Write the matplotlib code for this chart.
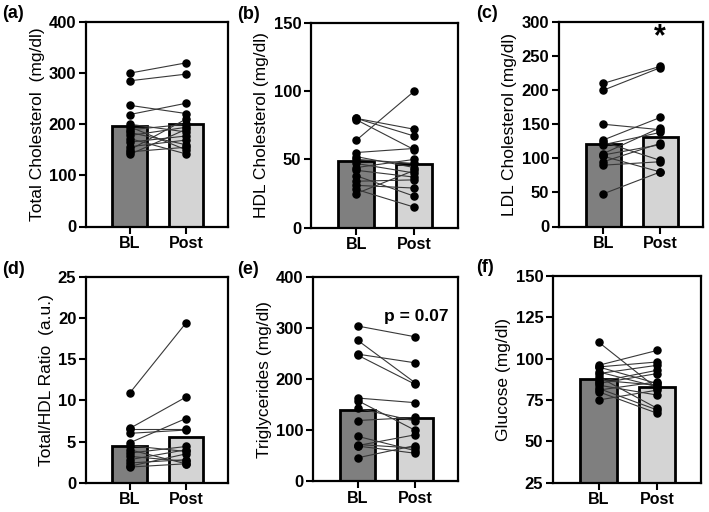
import matplotlib
matplotlib.use("Agg")
import matplotlib.pyplot as plt
import numpy as np

plt.rcParams['font.family'] = ['Liberation Sans', 'DejaVu Sans']

groups = ["BL", "Post"]

# (a) Total cholesterol
tc_bl = [300, 285, 237, 219, 200, 195, 189, 184, 178, 172, 165, 156, 150, 146, 141]
tc_post = [320, 298, 221, 241, 185, 150, 200, 160, 194, 142, 177, 169, 210, 155, 190]
tc_mean = [196, 201]

# (b) HDL
hdl_bl = [80, 80, 79, 64, 55, 52, 50, 47, 44, 42, 38, 34, 31, 28, 25]
hdl_post = [72, 67, 57, 100, 58, 44, 47, 40, 50, 37, 23, 35, 29, 15, 42]
hdl_mean = [49, 46.5]

# (c) LDL
ldl_bl = [210, 200, 150, 127, 124, 120, 107, 105, 103, 95, 90, 48]
ldl_post = [235, 233, 142, 160, 97, 138, 145, 120, 80, 122, 95, 80]
ldl_mean = [121.5, 131.5]

# (d) Total/HDL ratio
ratio_bl = [10.9, 6.6, 6.5, 6.0, 4.85, 4.5, 4.0, 3.6, 3.2, 2.8, 2.4, 2.0, 1.9]
ratio_post = [19.4, 10.4, 6.5, 6.4, 7.8, 3.8, 2.3, 4.4, 2.6, 4.0, 2.8, 3.5, 2.3]
ratio_mean = [4.5, 5.6]

# (e) Triglycerides
tg_bl = [304, 276, 249, 247, 163, 158, 143, 119, 88, 72, 70, 69, 46]
tg_post = [283, 193, 232, 190, 154, 100, 118, 125, 60, 65, 91, 55, 70]
tg_mean = [139, 123]

# (f) Glucose
glu_bl = [110, 96, 95, 95, 91, 89, 87, 86, 84, 82, 81, 80, 75, 85, 92]
glu_post = [82, 105, 98, 85, 96, 70, 84, 93, 78, 69, 86, 67, 81, 91, 83]
glu_mean = [87.5, 83]

panels = [
    ("(a)", "Total Cholesterol  (mg/dl)", tc_bl, tc_post, tc_mean, (0, 400), 100, (86, 228, 22, 226.5)),
    ("(b)", "HDL Cholesterol (mg/dl)", hdl_bl, hdl_post, hdl_mean, (0, 150), 50, (311, 458, 22.7, 227.7)),
    ("(c)", "LDL Cholesterol (mg/dl)", ldl_bl, ldl_post, ldl_mean, (0, 300), 50, (559, 703, 22, 226.5)),
    ("(d)", "Total/HDL Ratio  (a.u.)", ratio_bl, ratio_post, ratio_mean, (0, 25), 5, (86, 228, 277, 482.7)),
    ("(e)", "Triglycerides (mg/dl)", tg_bl, tg_post, tg_mean, (0, 400), 100, (313, 458, 277, 481.3)),
    ("(f)", "Glucose (mg/dl)", glu_bl, glu_post, glu_mean, (25, 150), 25, (553, 701, 276, 482.7)),
]

W, H = 709, 512
fig = plt.figure(figsize=(W / 100, H / 100), dpi=100)
fig.patch.set_facecolor("white")

bar_colors = ["#7f7f7f", "#d4d4d4"]
axes = []
for label, ylab, bl, post, means, ylim, step, (l, r, t, b) in panels:
    ax = fig.add_axes([l / W, 1 - b / H, (r - l) / W, (b - t) / H])
    axes.append(ax)
    x = np.arange(2)
    ax.bar(x, [m - ylim[0] for m in means], bottom=ylim[0], width=0.62,
           color=bar_colors, edgecolor="black", linewidth=2.0, zorder=1)
    for v0, v1 in zip(bl, post):
        ax.plot([0, 1], [v0, v1], color="#383838", lw=0.8, zorder=2)
    ax.scatter(np.zeros(len(bl)), bl, s=26, color="black", zorder=3)
    ax.scatter(np.ones(len(post)), post, s=26, color="black", zorder=3)
    ax.set_xlim(-0.78, 1.75)
    ax.set_ylim(*ylim)
    ax.set_yticks(np.arange(ylim[0], ylim[1] + step / 2, step))
    ax.set_xticks(x)
    ax.set_xticklabels(groups, fontsize=11.5, fontweight="bold")
    for tl in ax.get_yticklabels():
        tl.set_fontsize(12)
        tl.set_fontweight("bold")
    ax.tick_params(axis="both", direction="out", width=1.5, length=5, pad=2)
    for s in ax.spines.values():
        s.set_linewidth(1.6)
    ax.set_ylabel(ylab, fontsize=12.5, labelpad=3)
    fig.text(2 / W if l < 300 else (237 / W if l < 500 else 476 / W),
             1 - (t - 8) / H, label, fontsize=13, fontweight="bold",
             ha="left", va="center")

axes[2].text(1, 278, "*", ha="center", va="center", fontsize=22, fontweight="bold")
axes[4].text(0.71, 322, "p = 0.07", ha="center", va="center", fontsize=12.5,
             fontweight="bold", transform=axes[4].get_yaxis_transform())

fig.savefig("out.png", dpi=100)
